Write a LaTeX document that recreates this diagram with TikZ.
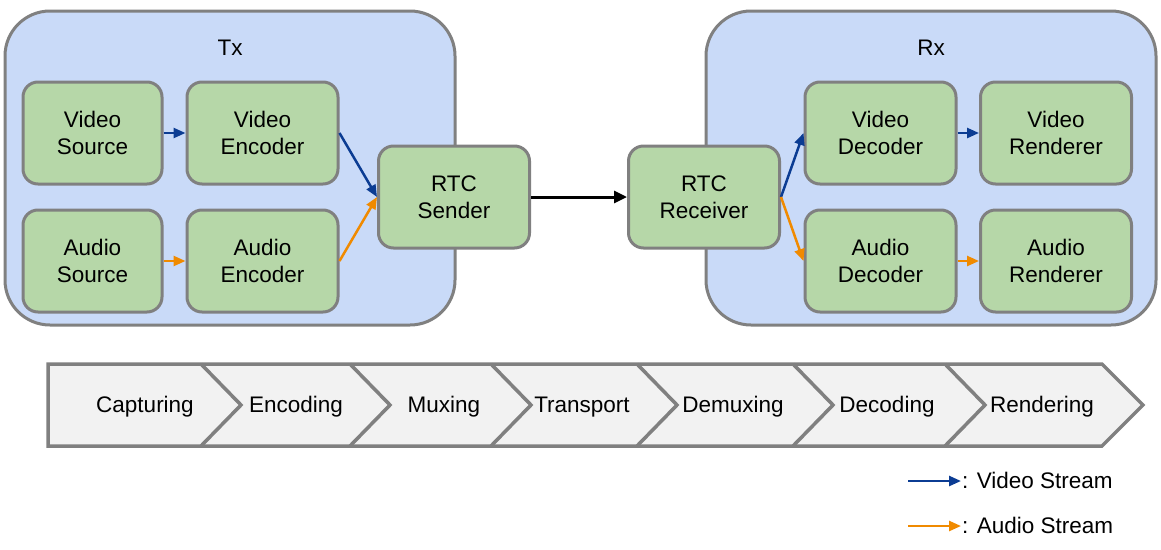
\documentclass[tikz,border=0pt]{standalone}
\usepackage{fontspec}
\setmainfont{Liberation Sans}
\usepackage{xcolor}
\usetikzlibrary{arrows.meta}
\definecolor{groupblue}{HTML}{C9DAF8}
\definecolor{boxgreen}{HTML}{B6D7A8}
\definecolor{rimgray}{HTML}{808080}
\definecolor{stagegray}{HTML}{F2F2F2}
\definecolor{videoblue}{HTML}{0B3C93}
\definecolor{audioorange}{HTML}{F08A00}
\begin{document}
\begin{tikzpicture}%
                [x=1pt, y=-1pt,
                font=\fontsize{22.5}{27}\selectfont,
                group/.style={draw=rimgray, fill=groupblue, line width=3pt, rounded corners=45pt},
                block/.style={draw=rimgray, fill=boxgreen, line width=3pt, rounded corners=15pt,
                              align=center, minimum width=151pt, minimum height=102pt, inner sep=0pt},
                srcblock/.style={block, minimum width=139pt},
                stage/.style={draw=rimgray, fill=stagegray, line width=3.5pt, line join=miter},
                video/.style={draw=videoblue, line width=2.5pt, -{Triangle[length=12pt,width=10pt]}},
                audio/.style={draw=audioorange, line width=2.5pt, -{Triangle[length=12pt,width=10pt]}},
                link/.style={draw=black, line width=3pt, -{Triangle[length=13pt,width=12pt]}}]
            \useasboundingbox (0,0) rectangle (1161,549);
            %
            %% Drawing the groups
            \draw[group] (5,11) rectangle (455,325);
            \draw[group] (706,11) rectangle (1156,325);
            \node (txlabel) at (230,48) {Tx};
            \node (rxlabel) at (931,48) {Rx};
            %%
            %% Drawing the blocks
            %%
            \node[srcblock] (vsrc) at (92.5,133)  {Video\\Source};
            \node[block]    (venc) at (262.5,133) {Video\\Encoder};
            \node[srcblock] (asrc) at (92.5,261)  {Audio\\Source};
            \node[block]    (aenc) at (262.5,261) {Audio\\Encoder};
            \node[block]    (snd)  at (454,197)   {RTC\\Sender};
            \node[block]    (rcv)  at (704,197)   {RTC\\Receiver};
            \node[block]    (vdec) at (880.5,133) {Video\\Decoder};
            \node[block]    (vren) at (1056,133)  {Video\\Renderer};
            \node[block]    (adec) at (880.5,261) {Audio\\Decoder};
            \node[block]    (aren) at (1056,261)  {Audio\\Renderer};
            %%
            %% Drawing the streams
            %%
            \draw[video] (vsrc.east) -- (venc.west);
            \draw[audio] (asrc.east) -- (aenc.west);
            \draw[video] (venc.east) -- (snd.west);
            \draw[audio] (aenc.east) -- (snd.west);
            \draw[link]  (snd.east) -- (rcv.west);
            \draw[video] (rcv.east) -- (vdec.west);
            \draw[audio] (rcv.east) -- (adec.west);
            \draw[video] (vdec.east) -- (vren.west);
            \draw[audio] (adec.east) -- (aren.west);
            %%
            %% Drawing the stages
            %%
            \draw[stage] (48,364) -- (1102,364) -- (1143,405) -- (1102,446) -- (48,446) -- cycle;
            \foreach \xs in {201,350,491,637,793,945}
                \draw[stage, fill=none] (\xs,364) -- (\xs+40,405) -- (\xs,446);
            \node (capt) at (145,407)  {Capturing};
            \node (enco) at (296,407)  {Encoding};
            \node (muxi) at (444,407)  {Muxing};
            \node (tran) at (582,407)  {Transport};
            \node (demu) at (733,407)  {Demuxing};
            \node (deco) at (887,407)  {Decoding};
            \node (rend) at (1042,407) {Rendering};
            %%
            %% Drawing the legend
            %%
            \coordinate (vleg) at (908,481);
            \coordinate (aleg) at (908,526);
            \node[anchor=west, inner sep=1pt] (vlegtext) at (961,480) {: Video Stream};
            \node[anchor=west, inner sep=1pt] (alegtext) at (961,525) {: Audio Stream};
            \draw[video] (vleg) -- (vleg -| vlegtext.west);
            \draw[audio] (aleg) -- (aleg -| alegtext.west);
            %%
\end{tikzpicture}
\end{document}
